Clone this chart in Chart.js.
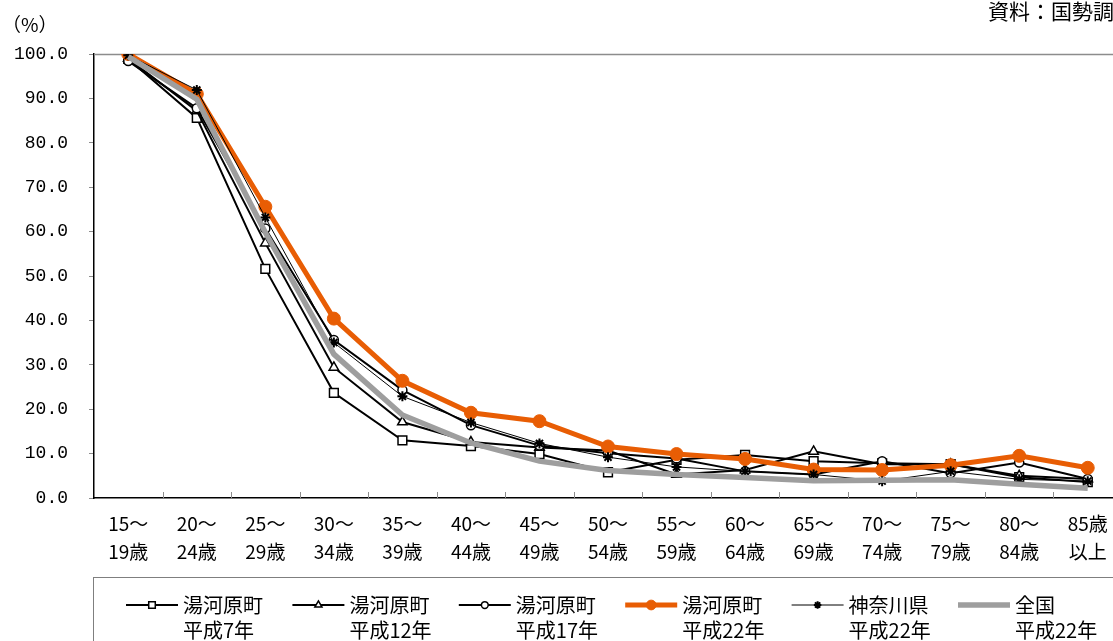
<!DOCTYPE html>
<html lang="ja">
<head>
<meta charset="utf-8">
<script src="https://cdn.jsdelivr.net/npm/chart.js@4.4.1/dist/chart.umd.min.js"></script>
<style>
  html, body { margin: 0; padding: 0; background: #fff; overflow: hidden; }
  canvas { display: block; }
</style>
</head>
<body>
<canvas id="chart" width="1150" height="641"></canvas>
<script>
// Age groups (two-line category labels)
const ageGroups = [
  ['15～', '19歳'], ['20～', '24歳'], ['25～', '29歳'], ['30～', '34歳'], ['35～', '39歳'],
  ['40～', '44歳'], ['45～', '49歳'], ['50～', '54歳'], ['55～', '59歳'], ['60～', '64歳'],
  ['65～', '69歳'], ['70～', '74歳'], ['75～', '79歳'], ['80～', '84歳'], ['85歳', '以上']
];

// Y axis tick values (%)
const yTickValues = [0, 10, 20, 30, 40, 50, 60, 70, 80, 90, 100];

// Series names (two-line legend labels)
const seriesNames = [
  ['湯河原町', '平成7年'],
  ['湯河原町', '平成12年'],
  ['湯河原町', '平成17年'],
  ['湯河原町', '平成22年'],
  ['神奈川県', '平成22年'],
  ['全国', '平成22年']
];

// Unmarried rate by age group (%)
const yugawaraH7  = [98.9, 85.6, 51.6, 23.7, 13.0, 11.7,  9.9,  5.8, 8.6, 9.7, 8.3, 7.8, 7.6, 4.7, 3.6];
const yugawaraH12 = [99.0, 87.2, 57.4, 29.4, 17.1, 12.6, 11.4, 10.7, 5.3, 6.3, 10.5, 7.6, 7.6, 5.0, 4.3];
const yugawaraH17 = [98.4, 87.8, 60.7, 35.6, 24.3, 16.4, 11.8, 10.1, 8.9, 6.0, 5.3, 8.3, 5.6, 8.0, 4.3];
const yugawaraH22 = [100.0, 91.0, 65.6, 40.4, 26.4, 19.2, 17.3, 11.6, 9.9, 8.8, 6.4, 6.3, 7.4, 9.5, 6.8];
const kanagawaH22 = [99.7, 91.9, 63.2, 35.0, 22.9, 17.0, 12.3,  9.2, 7.0, 6.0, 5.3, 3.8, 6.0, 4.2, 3.8];
const nationalH22 = [99.4, 89.8, 59.8, 32.4, 18.7, 12.4,  8.3,  6.2, 5.3, 4.6, 3.9, 4.0, 4.1, 3.1, 2.2];

const ORANGE = '#E85D04';
const GRAY = '#9E9E9E';
const CJK = '"Noto Sans CJK JP", "Noto Sans", sans-serif';

const seriesValues = [yugawaraH7, yugawaraH12, yugawaraH17, yugawaraH22, kanagawaH22, nationalH22];
const seriesStyles = [
  { borderColor: '#000', borderWidth: 2, pointStyle: 'rect', pointRadius: 6.2, pointBackgroundColor: '#fff', pointBorderColor: '#000', pointBorderWidth: 1.5 },
  { borderColor: '#000', borderWidth: 2, pointStyle: 'triangle', pointRadius: 5.5, pointBackgroundColor: '#fff', pointBorderColor: '#000', pointBorderWidth: 1.5 },
  { borderColor: '#000', borderWidth: 2, pointStyle: 'circle', pointRadius: 4.5, pointBackgroundColor: '#fff', pointBorderColor: '#000', pointBorderWidth: 1.5 },
  { borderColor: ORANGE, borderWidth: 5, pointStyle: 'circle', pointRadius: 6.5, pointBackgroundColor: ORANGE, pointBorderColor: ORANGE, pointBorderWidth: 1 },
  { borderColor: '#000', borderWidth: 1, pointStyle: 'star', pointRadius: 5, pointBackgroundColor: '#000', pointBorderColor: '#000', pointBorderWidth: 2 },
  { borderColor: GRAY, borderWidth: 5.5, pointStyle: false, pointRadius: 0, pointBackgroundColor: GRAY, pointBorderColor: GRAY, pointBorderWidth: 0 }
];

const datasets = seriesValues.map((vals, i) => Object.assign({
  label: seriesNames[i].join(' '),
  data: vals,
  tension: 0,
  fill: false,
  pointHoverRadius: 0,
  // later series are painted on top
  order: seriesValues.length - i
}, seriesStyles[i]));

// Frame details, axis notes and the boxed two-line legend
const decor = {
  id: 'decor',
  beforeDatasetsDraw(chart) {
    const { ctx, chartArea, scales: { x } } = chart;
    ctx.save();
    // top frame line
    ctx.strokeStyle = '#8c8c8c';
    ctx.lineWidth = 1.5;
    ctx.beginPath();
    ctx.moveTo(chartArea.left, chartArea.top + 0.5);
    ctx.lineTo(chartArea.right, chartArea.top + 0.5);
    ctx.stroke();
    // inward tick marks at category boundaries
    ctx.lineWidth = 1;
    for (let i = 1; i < ageGroups.length; i++) {
      const px = Math.round((x.getPixelForValue(i - 1) + x.getPixelForValue(i)) / 2) + 0.5;
      ctx.beginPath();
      ctx.moveTo(px, chartArea.bottom);
      ctx.lineTo(px, chartArea.bottom - 6);
      ctx.stroke();
    }
    ctx.restore();
  },
  afterDraw(chart) {
    const { ctx, data } = chart;
    ctx.save();
    ctx.fillStyle = '#000';
    ctx.textBaseline = 'middle';
    ctx.textAlign = 'left';
    ctx.font = '19px ' + CJK;
    ctx.fillText('（%）', 2, 25);
    ctx.font = '21px ' + CJK;
    ctx.fillText('資料：国勢調査', 988, 11);

    // legend frame
    ctx.strokeStyle = '#7f7f7f';
    ctx.lineWidth = 1;
    ctx.strokeRect(93.5, 577.5, 1200, 200);

    const lineY = 605;
    const textLines = [605, 630];
    data.datasets.forEach((ds, i) => {
      const x0 = 126 + i * 166.4;
      const len = 52;
      ctx.strokeStyle = ds.borderColor;
      ctx.lineWidth = ds.borderWidth;
      ctx.beginPath();
      ctx.moveTo(x0, lineY);
      ctx.lineTo(x0 + len, lineY);
      ctx.stroke();
      if (ds.pointStyle) {
        ctx.fillStyle = ds.pointBackgroundColor;
        ctx.strokeStyle = ds.pointBorderColor;
        ctx.lineWidth = ds.pointBorderWidth;
        Chart.helpers.drawPoint(ctx, {
          pointStyle: ds.pointStyle,
          radius: ds.pointRadius * 0.75,
          rotation: 0,
          borderWidth: ds.pointBorderWidth
        }, x0 + len / 2, lineY);
      }
      ctx.fillStyle = '#000';
      ctx.font = '20px ' + CJK;
      ctx.textAlign = 'left';
      seriesNames[i].forEach((t, k) => ctx.fillText(t, x0 + len + 5, textLines[k]));
    });
    ctx.restore();
  }
};

new Chart(document.getElementById('chart'), {
  type: 'line',
  data: { labels: ageGroups, datasets },
  options: {
    responsive: false,
    animation: false,
    events: [],
    layout: { padding: { top: 54, left: 0, right: 28, bottom: 71 } },
    plugins: { legend: { display: false }, tooltip: { enabled: false } },
    scales: {
      x: {
        type: 'category',
        offset: true,
        grid: { display: true, offset: true, drawOnChartArea: false, drawTicks: false, color: 'rgba(0,0,0,0)' },
        border: { display: true, color: '#000', width: 1.5 },
        ticks: {
          color: '#000',
          padding: 12,
          maxRotation: 0,
          autoSkip: false,
          font: { family: CJK, size: 19, lineHeight: 1.47 }
        },
        afterFit(scale) { scale.height = 72; }
      },
      y: {
        min: 0,
        max: 100,
        afterBuildTicks(scale) { scale.ticks = yTickValues.map(v => ({ value: v })); },
        grid: { drawOnChartArea: false, drawTicks: true, tickLength: 5, tickColor: '#8c8c8c' },
        border: { display: true, color: '#000', width: 1.5 },
        ticks: {
          color: '#000',
          padding: 21,
          font: { family: '"Liberation Mono", monospace', size: 18 },
          callback: v => Number(v).toFixed(1)
        },
        afterFit(scale) { scale.width = 94; }
      }
    }
  },
  plugins: [decor]
});
</script>
</body>
</html>
